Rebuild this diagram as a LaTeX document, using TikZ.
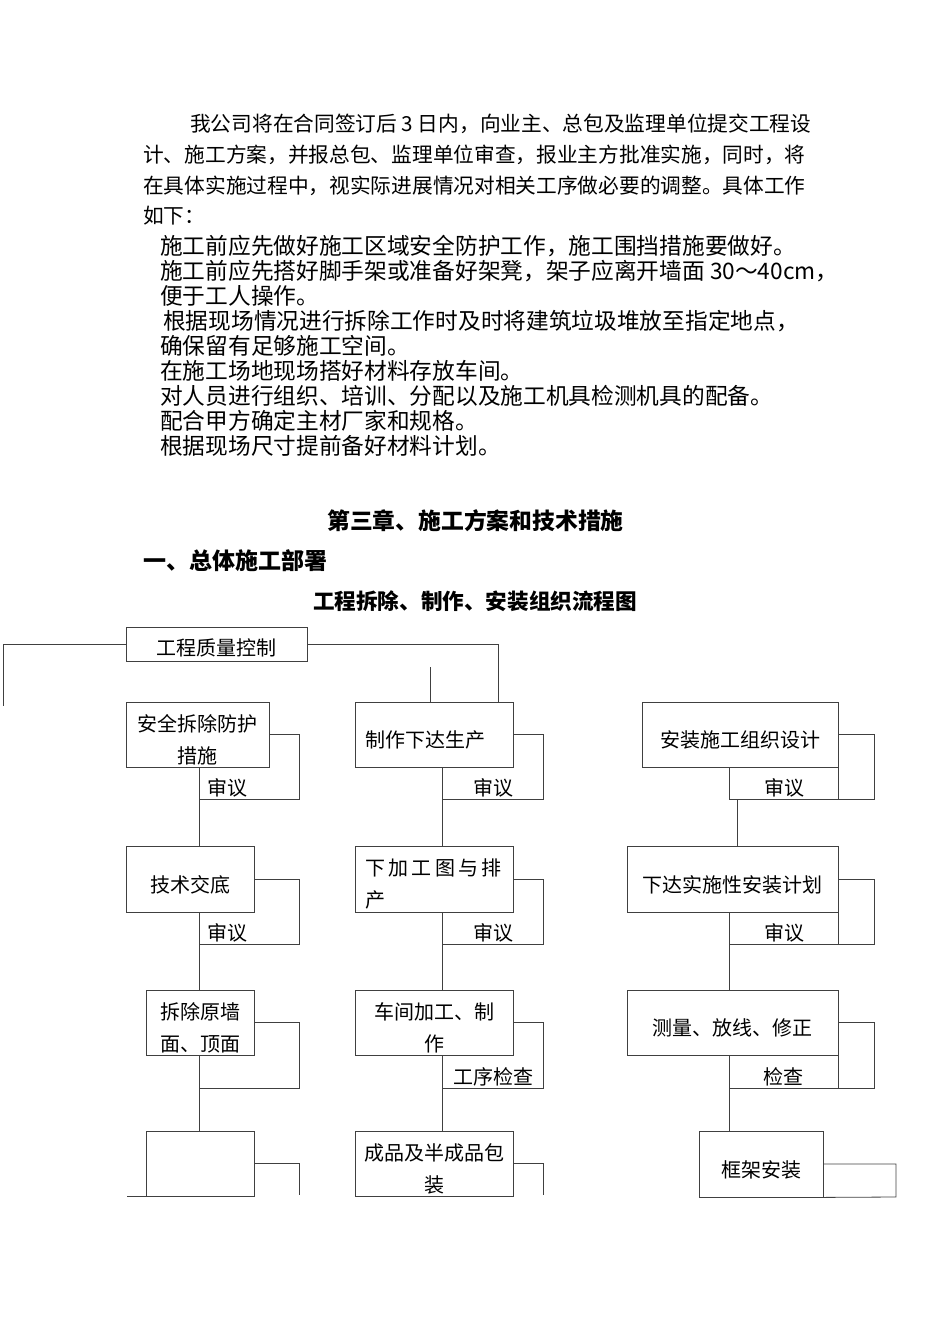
\documentclass[tikz,border=0pt]{standalone}
\usepackage{fontspec}
\setmainfont{Noto Sans CJK SC}
\usetikzlibrary{positioning,calc}

\begin{document}
\begin{tikzpicture}[
    x=1pt, y=-1pt,
    box/.style={rectangle, draw=black!75, line width=0.8pt, inner sep=0pt, font=\fontsize{20}{32}\selectfont, align=center, text height=28pt},
    leftbox/.style={box, align=left, text width=138pt},
    twoline/.style={text height=60pt},
    note/.style={inner sep=0pt, font=\fontsize{20}{24}\selectfont},
    line/.style={draw=black!75, line width=0.8pt},
    para/.style={anchor=west, inner sep=0pt, font=\fontsize{20.7}{24}\selectfont},
    item/.style={anchor=west, inner sep=0pt, font=\fontsize{22.7}{26}\selectfont},
    head/.style={inner sep=0pt}
]
\useasboundingbox (0,0) rectangle (950,1344);

% Opening paragraph
\node[para] (para1) at (190,124) {我公司将在合同签订后 3 日内，向业主、总包及监理单位提交工程设};
\node[para] (para2) at (143,155) {计、施工方案，并报总包、监理单位审查，报业主方批准实施，同时，将};
\node[para] (para3) at (143,186) {在具体实施过程中，视实际进展情况对相关工序做必要的调整。具体工作};
\node[para] (para4) at (143,216) {如下：};

% Work items
\node[item] (item1) at (160,246) {施工前应先做好施工区域安全防护工作，施工围挡措施要做好。};
\node[item] (item2) at (160,271) {施工前应先搭好脚手架或准备好架凳，架子应离开墙面 30～40cm，};
\node[item] (item3) at (160,296) {便于工人操作。};
\node[item] (item4) at (163,321) {根据现场情况进行拆除工作时及时将建筑垃圾堆放至指定地点，};
\node[item] (item5) at (160,346) {确保留有足够施工空间。};
\node[item] (item6) at (160,371) {在施工场地现场搭好材料存放车间。};
\node[item] (item7) at (160,396) {对人员进行组织、培训、分配以及施工机具检测机具的配备。};
\node[item] (item8) at (160,421) {配合甲方确定主材厂家和规格。};
\node[item] (item9) at (160,446) {根据现场尺寸提前备好材料计划。};

% Headings
\node[head, font=\bfseries\fontsize{22.8}{26}\selectfont] (chapter) at (475.5,521) {第三章、施工方案和技术措施};
\node[head, font=\bfseries\fontsize{23}{26}\selectfont] (section) at (235,561) {一、总体施工部署};
\node[head, font=\bfseries\fontsize{21.6}{26}\selectfont] (title) at (475,601) {工程拆除、制作、安装组织流程图};

% Quality control
\node[box, minimum width=181pt, minimum height=34pt, text height=24pt] (quality) at (216.5,644) {工程质量控制};

% Demolition column
\node[box, twoline, minimum width=143pt, minimum height=65pt] (b1) at (197.5,734.5) {安全拆除防护\\措施};
\node[box, minimum width=128pt, minimum height=66pt] (b2) at (190,879) {技术交底};
\node[box, twoline, minimum width=108pt, minimum height=65pt] (b3) at (200,1022.5) {拆除原墙\\面、顶面};
\node[box, minimum width=108pt, minimum height=65pt] (b4) at (200,1163.5) {};

% Production column
\node[leftbox, minimum width=158pt, minimum height=65pt] (c1) at (434,734.5) {制作下达生产};
\node[leftbox, text height=27pt, minimum width=158pt, minimum height=66pt] (c2) at (434,879) {下\hspace{3.4pt}加\hspace{3.4pt}工\hspace{3.4pt}图\hspace{3.4pt}与\hspace{3.4pt}排\\产};
\node[box, twoline, minimum width=158pt, minimum height=65pt] (c3) at (434,1022.5) {车间加工、制\\作};
\node[box, twoline, minimum width=158pt, minimum height=65pt] (c4) at (434,1163.5) {成品及半成品包\\装};

% Installation column
\node[box, minimum width=196pt, minimum height=65pt] (d1) at (740,734.5) {安装施工组织设计};
\node[box, minimum width=211pt, minimum height=66pt] (d2) at (732.5,879) {下达实施性安装计划};
\node[box, minimum width=211pt, minimum height=65pt] (d3) at (732.5,1022.5) {测量、放线、修正};
\node[box, minimum width=124pt, minimum height=66pt] (d4) at (761,1164) {框架安装};

% Check labels
\node[note] (b1check) at (227,788) {审议};
\node[note] (b2check) at (227,933) {审议};
\node[note] (c1check) at (493,788) {审议};
\node[note] (c2check) at (493,933) {审议};
\node[note] (c3check) at (493,1077) {工序检查};
\node[note] (d1check) at (784,788) {审议};
\node[note] (d2check) at (784,933) {审议};
\node[note] (d3check) at (783,1077) {检查};

% Helper points
\coordinate (bx) at (199,0);
\coordinate (cx) at (442,0);
\coordinate (dx) at (729,0);
\coordinate (dx1) at (737,0);
\coordinate (qleft) at (3,706);
\coordinate (qright) at (498,0);
\coordinate (qmid) at (430,667);
\coordinate (b4stub) at (127,0);
\coordinate (b1loop) at (299,799);
\coordinate (b2loop) at (299,944);
\coordinate (b3loop) at (299,1088);
\coordinate (b4loop) at (299,1195);
\coordinate (c1loop) at (543,799);
\coordinate (c2loop) at (543,944);
\coordinate (c3loop) at (543,1088);
\coordinate (c4loop) at (543,1195);
\coordinate (d1loop) at (874,799);
\coordinate (d2loop) at (874,944);
\coordinate (d3loop) at (874,1088);
\coordinate (d4loop) at (896,1197);

% Lines from quality control
\draw[line] (quality.west) -| (qleft);
\draw[line] (quality.east) -| (c1.north -| qright);
\draw[line] (qmid) -- (c1.north -| qmid);

% Demolition loops and links
\draw[line] (b1.east) -| (b1loop) -- (b1loop -| bx);
\draw[line] (b2.east) -| (b2loop) -- (b2loop -| bx);
\draw[line] (b3.east) -| (b3loop) -- (b3loop -| bx);
\draw[line] (b4.east) -| (b4loop);
\draw[line] (b1.south -| bx) -- (b2.north -| bx);
\draw[line] (b2.south -| bx) -- (b3.north -| bx);
\draw[line] (b3.south -| bx) -- (b4.north -| bx);
\draw[line] (b4.south west) -- (b4.south -| b4stub);

% Production loops and links
\draw[line] (c1.east) -| (c1loop) -- (c1loop -| cx);
\draw[line] (c2.east) -| (c2loop) -- (c2loop -| cx);
\draw[line] (c3.east) -| (c3loop) -- (c3loop -| cx);
\draw[line] (c4.east) -| (c4loop);
\draw[line] (c1.south -| cx) -- (c2.north -| cx);
\draw[line] (c2.south -| cx) -- (c3.north -| cx);
\draw[line] (c3.south -| cx) -- (c4.north -| cx);

% Installation loops and links
\draw[line] (d1.east) -| (d1loop) -- (d1loop -| dx) -- (d1.south -| dx);
\draw[line] (d1.south east) -- (d1.south east |- d1loop);
\draw[line] (d2.east) -| (d2loop) -- (d2loop -| dx) -- (d2.south -| dx);
\draw[line] (d2.south east) -- (d2.south east |- d2loop);
\draw[line] (d3.east) -| (d3loop) -- (d3loop -| dx) -- (d3.south -| dx);
\draw[line] (d3.south east) -- (d3.south east |- d3loop);
\draw[line] (d4.east) -| (d4loop) -- (d4.south east);
\draw[line] (d1loop -| dx1) -- (d2.north -| dx1);
\draw[line] (d2loop -| dx) -- (d3.north -| dx);
\draw[line] (d3loop -| dx) -- (d4.north -| dx);

\end{tikzpicture}
\end{document}
